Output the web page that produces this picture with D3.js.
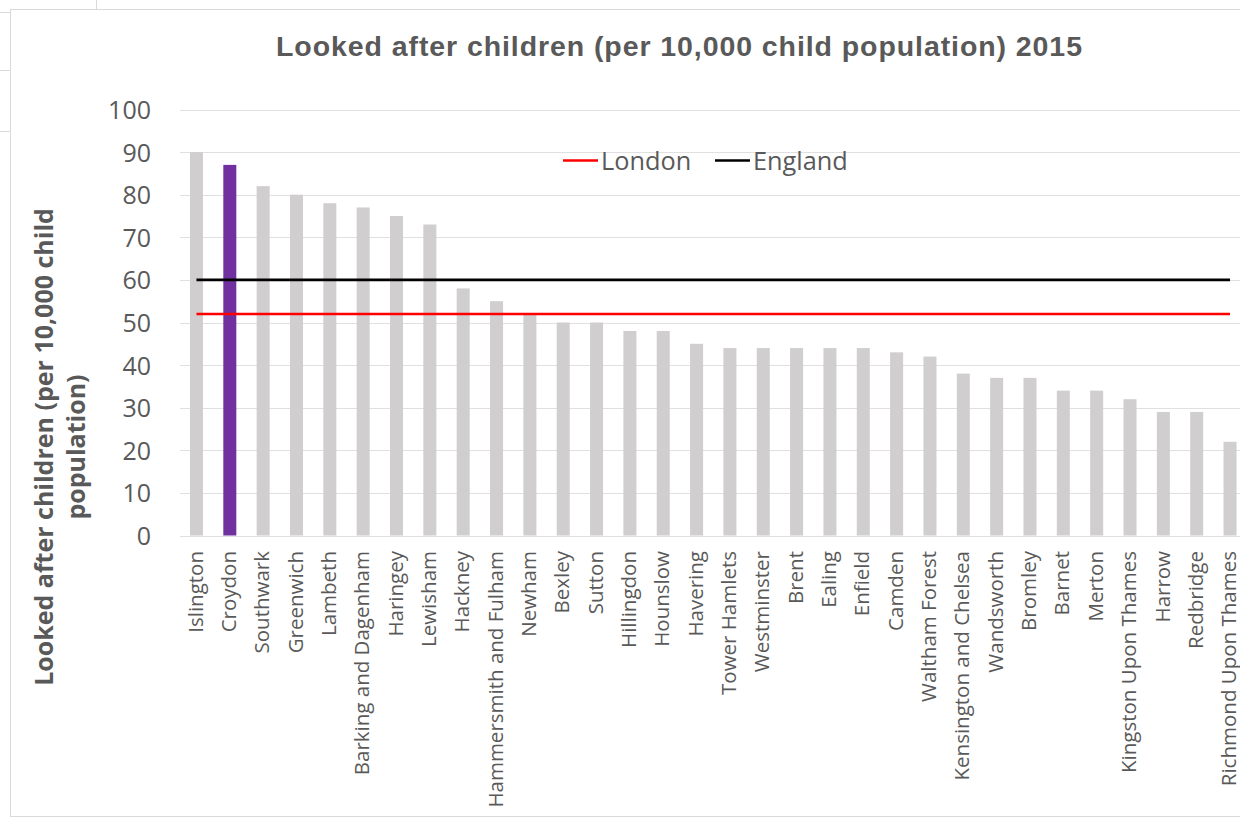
<!DOCTYPE html>
<html>
<head>
<meta charset="utf-8">
<script src="https://cdn.jsdelivr.net/npm/d3@7"></script>
<style>
  html, body { margin: 0; padding: 0; background: #ffffff; overflow: hidden; }
  svg { display: block; }
</style>
</head>
<body>
<svg id="chart" width="1240" height="818"></svg>
<script>
const categories = ["Islington","Croydon","Southwark","Greenwich","Lambeth","Barking and Dagenham","Haringey","Lewisham","Hackney","Hammersmith and Fulham","Newham","Bexley","Sutton","Hillingdon","Hounslow","Havering","Tower Hamlets","Westminster","Brent","Ealing","Enfield","Camden","Waltham Forest","Kensington and Chelsea","Wandsworth","Bromley","Barnet","Merton","Kingston Upon Thames","Harrow","Redbridge","Richmond Upon Thames"];
const values = [90,87,82,80,78,77,75,73,58,55,52,50,50,48,48,45,44,44,44,44,44,43,42,38,37,37,34,34,32,29,29,22];
const highlight = ["Croydon"];
const londonValue = 52;
const englandValue = 60;
const yTicks = [0,10,20,30,40,50,60,70,80,90,100];
const legendItems = [{name:"London", value: londonValue}, {name:"England", value: englandValue}];

const svg = d3.select("#chart");
const textColor = "#595959";
const tickFont = "'Open Sans', sans-serif";

// spreadsheet cell artifacts around the chart object
const art = svg.append("g").attr("stroke", "#dadada").attr("stroke-width", 1);
art.append("line").attr("x1", 96.5).attr("x2", 96.5).attr("y1", 0).attr("y2", 9);
[12.5, 70.5, 131.5].forEach(y => art.append("line").attr("x1", 0).attr("x2", 10).attr("y1", y).attr("y2", y));

// chart frame
svg.append("rect").attr("x", 10.5).attr("y", 9.5).attr("width", 1250).attr("height", 807)
  .attr("fill", "#ffffff").attr("stroke", "#d9d9d9").attr("stroke-width", 1);

const x = d3.scaleBand().domain(categories).range([179.8, 1246.7]).paddingInner(0.61).paddingOuter(0.305);
const y = d3.scaleLinear().domain([0, 100]).range([535.5, 109.5]);

// gridlines
svg.append("g").selectAll("line").data(yTicks).join("line")
  .attr("x1", 180).attr("x2", 1240)
  .attr("y1", d => Math.round(y(d)) + 0.5).attr("y2", d => Math.round(y(d)) + 0.5)
  .attr("stroke", "#e0e0e0").attr("stroke-width", 1);

// y axis labels
const yAxis = d3.axisLeft(y).tickValues(yTicks).tickSize(0).tickPadding(0);
const gy = svg.append("g").attr("transform", "translate(151,0)").call(yAxis);
gy.select(".domain").remove();
gy.selectAll("text").attr("fill", textColor).attr("font-family", tickFont).attr("font-size", "25px").attr("dy", "0.36em");

// bars
svg.append("g").selectAll("rect").data(categories).join("rect")
  .attr("x", d => x(d)).attr("width", x.bandwidth())
  .attr("y", (d, i) => y(values[i])).attr("height", (d, i) => y(0) - y(values[i]))
  .attr("fill", d => highlight.includes(d) ? "#7030a0" : "#d0cece");

// x labels
const xAxis = d3.axisBottom(x).tickSize(0).tickPadding(0);
const gx = svg.append("g").attr("transform", "translate(0,551)").call(xAxis);
gx.select(".domain").remove();
gx.selectAll("text")
  .attr("fill", textColor).attr("font-family", tickFont).attr("font-size", "20.5px")
  .attr("text-anchor", "end").attr("transform", "rotate(-90)")
  .attr("x", 0).attr("y", 0).attr("dy", "0.3em");

// reference lines
const first = x(categories[0]) + x.bandwidth() / 2;
const last = x(categories[categories.length - 1]) + x.bandwidth() / 2;
svg.append("line").attr("x1", first).attr("x2", last).attr("y1", y(englandValue)).attr("y2", y(englandValue))
  .attr("stroke", "#000000").attr("stroke-width", 2.6);
svg.append("line").attr("x1", first).attr("x2", last).attr("y1", y(londonValue)).attr("y2", y(londonValue))
  .attr("stroke", "#ff0000").attr("stroke-width", 2.6);

// title
svg.append("text").attr("x", 679).attr("y", 56).attr("text-anchor", "middle")
  .attr("font-family", "'Liberation Sans', Arial, sans-serif").attr("font-weight", "bold")
  .attr("font-size", "28.5px").attr("fill", textColor)
  .attr("textLength", 806).attr("lengthAdjust", "spacing")
  .text("Looked after children (per 10,000 child population) 2015");

// y axis title
const yt = svg.append("text").attr("transform", "translate(0,447) rotate(-90)")
  .attr("text-anchor", "middle").attr("font-family", tickFont).attr("font-weight", "bold")
  .attr("font-size", "25px").attr("fill", textColor);
yt.append("tspan").attr("x", 0).attr("y", 53).text("Looked after children (per 10,000 child");
yt.append("tspan").attr("x", 0).attr("y", 85).text("population)");

// legend
const legendColors = {London: "#ff0000", England: "#000000"};
const legendX = [563, 715];
const lg = svg.append("g").selectAll("g").data(legendItems).join("g")
  .attr("transform", (d, i) => `translate(${legendX[i]},160)`);
lg.append("line").attr("x1", 0).attr("x2", 35).attr("y1", 0.5).attr("y2", 0.5)
  .attr("stroke", d => legendColors[d.name]).attr("stroke-width", 2.6);
lg.append("text").attr("x", 38).attr("y", 10).attr("font-family", tickFont)
  .attr("font-size", "25.3px").attr("fill", textColor).text(d => d.name);
</script>
</body>
</html>
